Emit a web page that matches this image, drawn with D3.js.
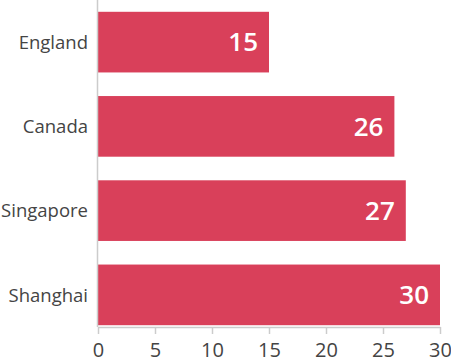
<!DOCTYPE html>
<html><head><meta charset="utf-8">
<script src="https://cdn.jsdelivr.net/npm/d3@7"></script>
<style>body{margin:0;background:#fff;}svg{display:block;font-family:"Open Sans",sans-serif;}</style>
</head><body>
<svg id="c" width="451" height="363"></svg>
<script>
const categories = ["England", "Canada", "Singapore", "Shanghai"];
const values = [15, 26, 27, 30];
const xTicks = [0, 5, 10, 15, 20, 25, 30];

const svg = d3.select("#c");
const x = d3.scaleLinear().domain([0, 30]).range([98, 440]);
const y = d3.scaleBand().domain(categories).range([0, 337]).paddingInner(0.28).paddingOuter(0.14);
const axisY = 327;

svg.selectAll("rect.bar").data(categories).join("rect")
  .attr("class", "bar")
  .attr("x", x(0))
  .attr("y", d => y(d))
  .attr("width", (d, i) => x(values[i]) - x(0))
  .attr("height", y.bandwidth())
  .attr("fill", "#d9405a");

svg.selectAll("text.val").data(categories).join("text")
  .attr("class", "val")
  .attr("x", (d, i) => x(values[i]) - 11)
  .attr("y", d => y(d) + y.bandwidth() / 2)
  .attr("dy", "0.36em")
  .attr("text-anchor", "end")
  .attr("fill", "#fff")
  .attr("font-weight", 600)
  .attr("font-size", 26)
  .text((d, i) => values[i]);

svg.selectAll("text.cat").data(categories).join("text")
  .attr("class", "cat")
  .attr("x", 88)
  .attr("y", d => y(d) + y.bandwidth() / 2)
  .attr("dy", "0.36em")
  .attr("text-anchor", "end")
  .attr("fill", "#444")
  .attr("font-size", 18.5)
  .text(d => d);

// left axis line
svg.append("line").attr("x1", 97.5).attr("x2", 97.5).attr("y1", 0).attr("y2", axisY)
  .attr("stroke", "#ccc").attr("stroke-width", 1.5);

const xAxis = svg.append("g").attr("transform", `translate(0,${axisY})`)
  .call(d3.axisBottom(x).tickValues(xTicks).tickSize(7).tickPadding(9).tickSizeOuter(0));
xAxis.select(".domain").attr("stroke", "#ccc").attr("stroke-width", 1.5);
xAxis.selectAll(".tick line").attr("stroke", "#ccc").attr("stroke-width", 1.5);
xAxis.selectAll(".tick text").attr("fill", "#444").attr("font-size", 20).attr("font-family", "'Open Sans',sans-serif");
</script>
</body></html>
